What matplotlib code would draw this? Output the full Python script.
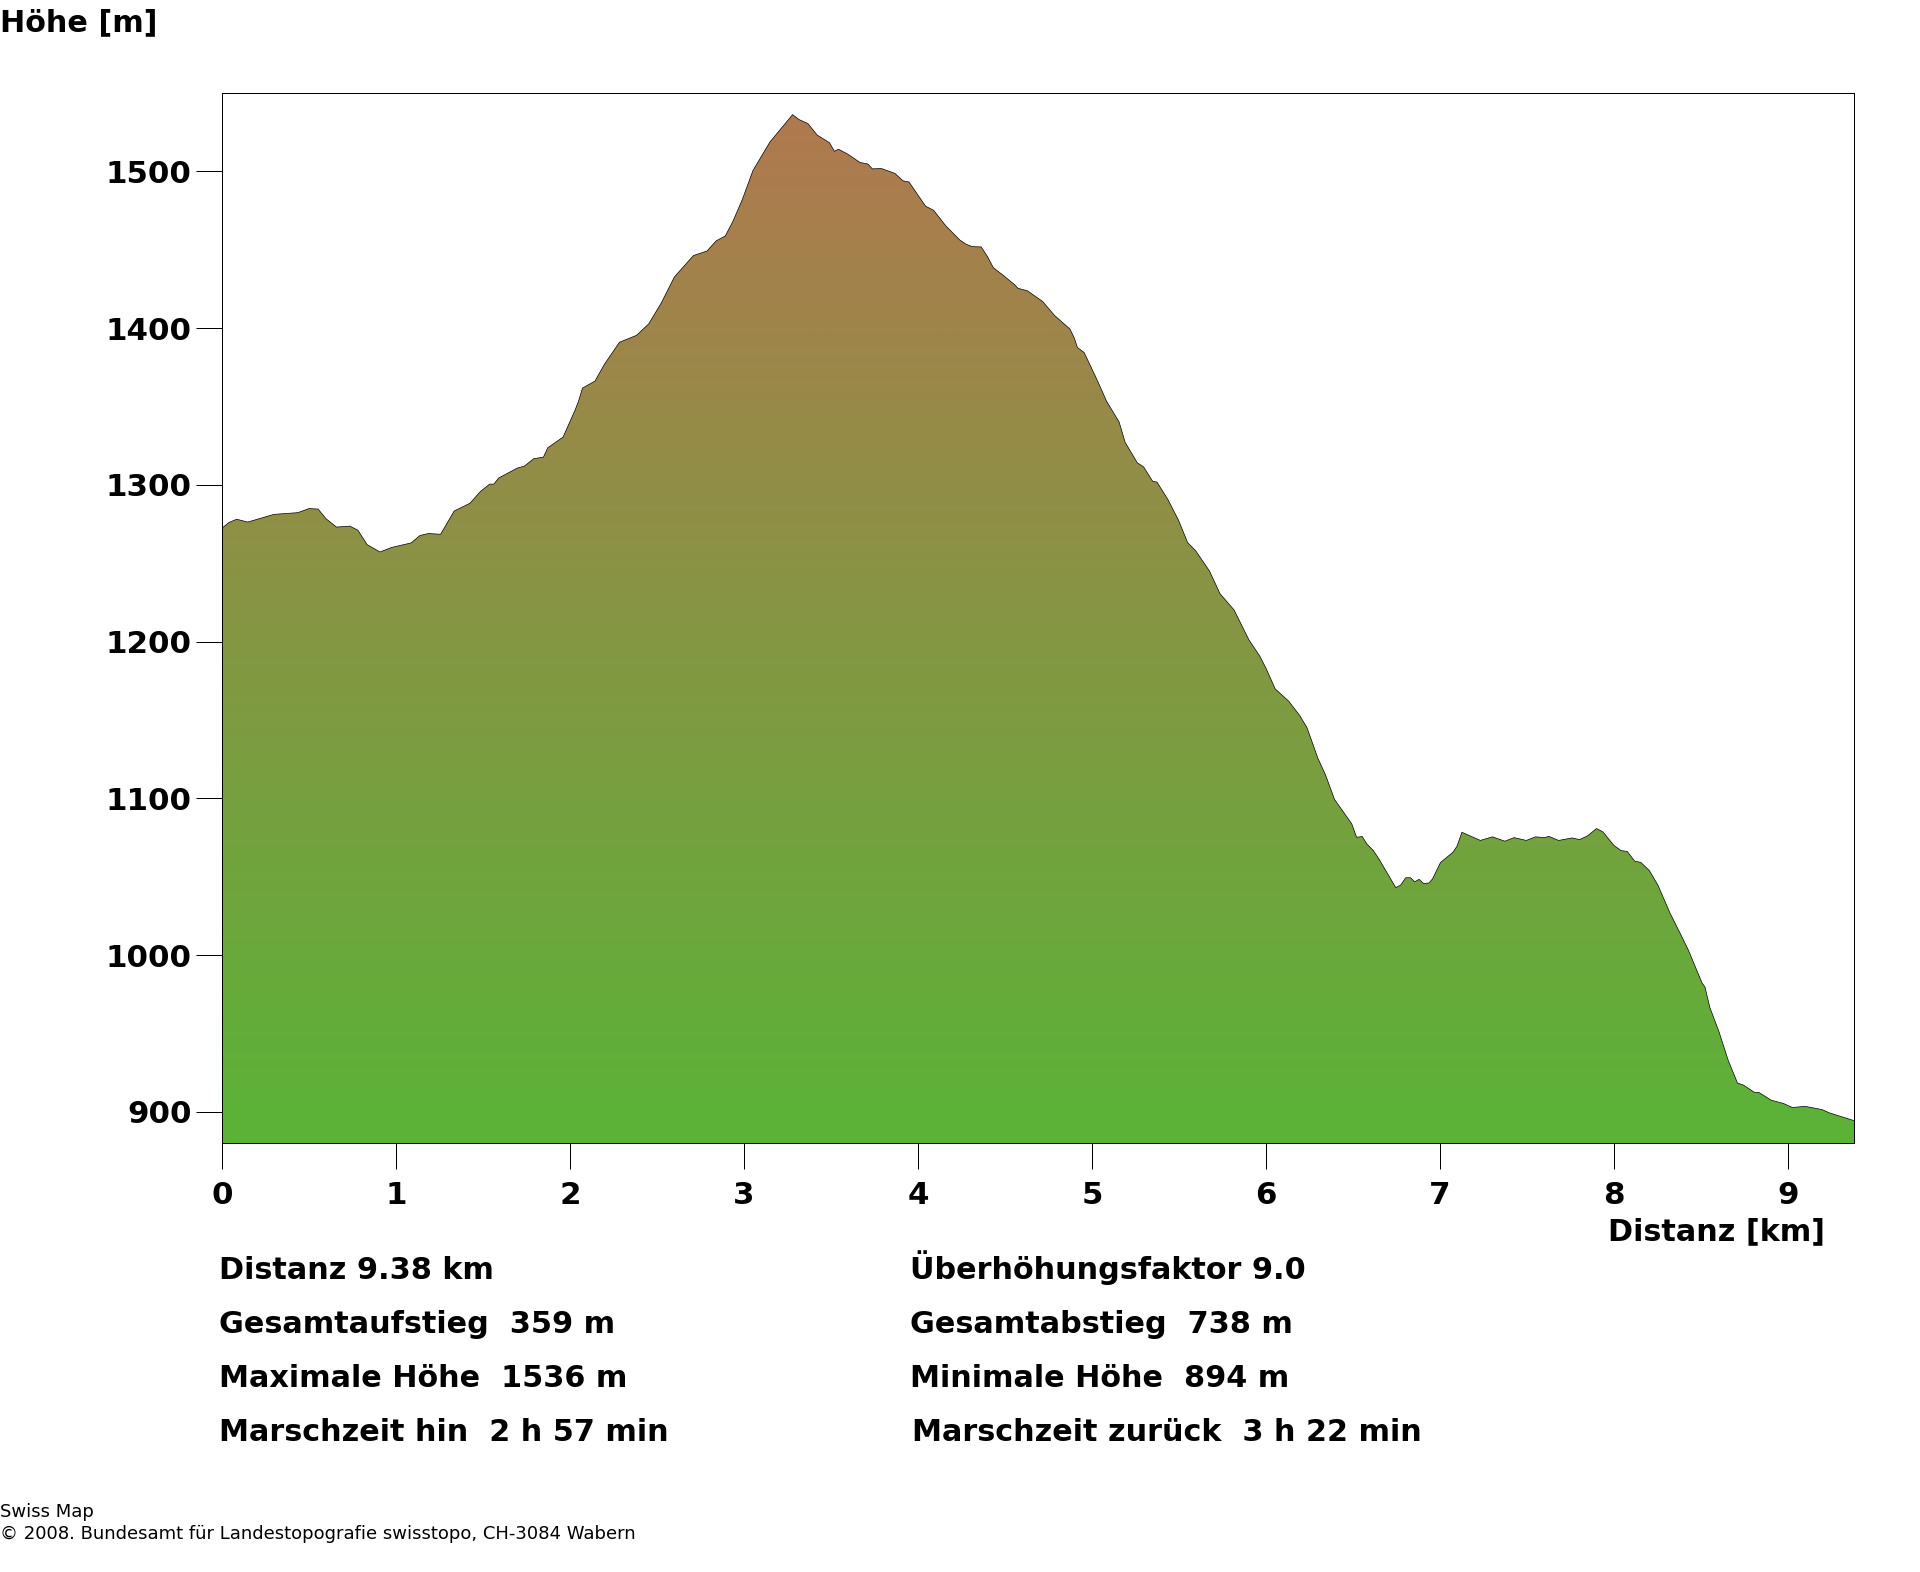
# Hoehenprofil Swiss Map
import numpy as np
import matplotlib
matplotlib.use("Agg")
import matplotlib.pyplot as plt
from matplotlib.colors import LinearSegmentedColormap

distance_km = [
    0.00, 0.04, 0.084, 0.148, 0.218, 0.299, 0.377, 0.436, 0.500, 0.552, 0.598, 0.658, 0.735, 0.781,
    0.834, 0.908, 0.975, 1.087, 1.137, 1.186, 1.256, 1.334, 1.425, 1.485, 1.538, 1.562, 1.590, 1.696,
    1.738, 1.791, 1.847, 1.872, 1.960, 2.030, 2.048, 2.072, 2.143, 2.199, 2.284, 2.382, 2.452, 2.523,
    2.600, 2.709, 2.787, 2.840, 2.892, 2.935, 2.991, 3.051, 3.149, 3.279, 3.315, 3.367, 3.420, 3.491,
    3.519, 3.543, 3.596, 3.666, 3.712, 3.737, 3.790, 3.867, 3.913, 3.948, 4.043, 4.089, 4.159, 4.240,
    4.275, 4.311, 4.363, 4.398, 4.433, 4.486, 4.557, 4.574, 4.627, 4.715, 4.785, 4.873, 4.898, 4.916,
    4.954, 5.032, 5.084, 5.155, 5.190, 5.260, 5.296, 5.348, 5.373, 5.436, 5.496, 5.549, 5.595, 5.675,
    5.735, 5.816, 5.901, 5.964, 6.000, 6.052, 6.130, 6.193, 6.235, 6.298, 6.341, 6.393, 6.492, 6.520,
    6.552, 6.580, 6.615, 6.650, 6.745, 6.773, 6.802, 6.830, 6.854, 6.879, 6.904, 6.935, 6.956, 7.002,
    7.073, 7.097, 7.125, 7.178, 7.231, 7.301, 7.372, 7.425, 7.495, 7.548, 7.600, 7.625, 7.681, 7.759,
    7.801, 7.847, 7.899, 7.935, 7.998, 8.040, 8.075, 8.118, 8.153, 8.202, 8.251, 8.322, 8.375, 8.427,
    8.505, 8.522, 8.550, 8.603, 8.656, 8.709, 8.744, 8.804, 8.832, 8.902, 8.973, 9.025, 9.096, 9.195,
    9.237, 9.38,
]
elevation_m = [
    1272.4, 1276.0, 1278.1, 1276.3, 1278.6, 1281.2, 1281.8, 1282.3, 1284.9, 1284.6, 1278.4, 1273.1, 1273.7, 1271.1,
    1261.9, 1257.2, 1260.1, 1263.0, 1267.7, 1269.0, 1268.5, 1283.3, 1288.3, 1295.8, 1300.5, 1300.5, 1304.4, 1310.7,
    1312.0, 1316.7, 1317.7, 1323.7, 1330.5, 1348.0, 1353.2, 1361.8, 1366.2, 1377.2, 1391.0, 1395.4, 1402.7, 1415.8,
    1432.7, 1446.3, 1449.2, 1455.7, 1458.8, 1467.9, 1482.3, 1500.5, 1518.8, 1536.2, 1533.1, 1530.5, 1523.2, 1518.3,
    1512.8, 1514.1, 1511.0, 1505.7, 1504.7, 1501.6, 1501.8, 1498.7, 1494.0, 1493.2, 1477.8, 1475.2, 1465.3, 1456.2,
    1453.6, 1452.0, 1451.8, 1445.8, 1438.5, 1434.0, 1427.5, 1425.4, 1423.9, 1417.1, 1408.0, 1399.4, 1393.6, 1387.6,
    1384.5, 1366.2, 1353.2, 1340.2, 1327.1, 1314.1, 1311.5, 1302.3, 1301.8, 1290.6, 1277.6, 1263.2, 1258.0, 1245.0,
    1230.6, 1220.2, 1201.2, 1190.7, 1182.9, 1169.9, 1162.0, 1152.9, 1145.1, 1125.5, 1115.1, 1099.4, 1083.8, 1075.2,
    1075.7, 1070.8, 1066.9, 1061.1, 1043.1, 1044.7, 1049.4, 1049.4, 1046.8, 1048.4, 1045.8, 1046.0, 1048.6, 1059.1,
    1065.6, 1069.5, 1078.4, 1075.8, 1073.2, 1075.5, 1072.7, 1075.0, 1073.2, 1075.5, 1075.0, 1075.8, 1073.2, 1074.8,
    1073.7, 1076.1, 1080.8, 1078.7, 1070.1, 1066.7, 1066.2, 1060.0, 1059.2, 1054.0, 1044.8, 1026.6, 1014.9, 1003.1,
    982.3, 979.7, 966.6, 951.0, 932.7, 918.4, 917.1, 912.6, 912.4, 907.5, 905.4, 902.8, 903.6, 901.5,
    899.4, 894.4,
]
x_ticks = [0, 1, 2, 3, 4, 5, 6, 7, 8, 9]
y_ticks = [900, 1000, 1100, 1200, 1300, 1400, 1500]
stats_left = ["Distanz 9.38 km", "Gesamtaufstieg  359 m", "Maximale Höhe  1536 m", "Marschzeit hin  2 h 57 min"]
stats_right = ["Überhöhungsfaktor 9.0", "Gesamtabstieg  738 m", "Minimale Höhe  894 m", "Marschzeit zurück  3 h 22 min"]
footer = ["Swiss Map", "© 2008. Bundesamt für Landestopografie swisstopo, CH-3084 Wabern"]

W, H = 1920, 1572
TICK_SIZE = 22.2
LABEL = 21.8


def px(x, y):
    return x / W, 1 - y / H


fig = plt.figure(figsize=(W / 100, H / 100), dpi=100)
ax = fig.add_axes([222 / W, 1 - 1143.3 / H, (1854.3 - 222) / W, (1143.3 - 93) / H])

# gradient clipped to the profile
cmap = LinearSegmentedColormap.from_list("hoehe", ["#59b437", "#b0794f"])
grad = np.linspace(0, 1, 256).reshape(-1, 1)
img = ax.imshow(grad, cmap=cmap, origin="lower", aspect="auto", interpolation="bilinear",
                extent=[0, 9.38, 870, 1536])
poly = ax.fill_between(distance_km, elevation_m, 870, facecolor="none", edgecolor="none")
img.set_clip_path(poly.get_paths()[0], transform=ax.transData)
ax.plot(distance_km, elevation_m, color="black", lw=0.5)

ax.set_xlim(0, 9.38)
ax.set_ylim(880, 1550)
ax.set_xticks(x_ticks)
ax.set_yticks(y_ticks)
ax.tick_params(axis="both", length=19, width=0.72, labelsize=TICK_SIZE)
ax.tick_params(axis="x", pad=8)
ax.tick_params(axis="y", pad=3)
for lab in ax.get_xticklabels() + ax.get_yticklabels():
    lab.set_fontweight("bold")
for sp in ax.spines.values():
    sp.set_linewidth(0.72)

fig.text(*px(0, 31), "Höhe [m]", fontsize=LABEL, fontweight="bold", va="baseline", ha="left")
fig.text(*px(1825, 1240), "Distanz [km]", fontsize=LABEL, fontweight="bold", va="baseline", ha="right")

rows_y = [1279, 1333, 1387, 1441]
for y, left, right in zip(rows_y, stats_left, stats_right):
    fig.text(*px(219, y), left, fontsize=LABEL, fontweight="bold", va="baseline", ha="left")
    fig.text(*px(912 if "zurück" in right else 910, y), right, fontsize=LABEL, fontweight="bold",
             va="baseline", ha="left")

fig.text(*px(0, 1517), footer[0], fontsize=13, va="baseline", ha="left")
fig.text(*px(0, 1539), footer[1], fontsize=13, va="baseline", ha="left")

fig.savefig("out.png", dpi=100)
